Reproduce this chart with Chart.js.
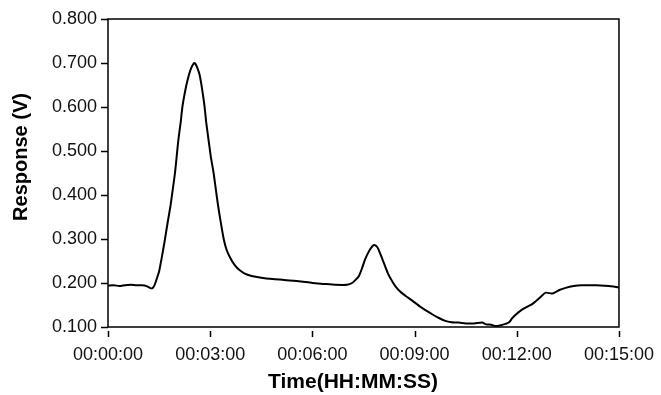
<!DOCTYPE html>
<html>
<head>
<meta charset="utf-8">
<script src="https://cdn.jsdelivr.net/npm/chart.js@4"></script>
<style>
  html, body { margin: 0; padding: 0; background: #fff; }
  #wrap { width: 661px; height: 395px; }
</style>
</head>
<body>
<div id="wrap"><canvas id="chart" width="661" height="395"></canvas></div>
<script>
// time in seconds, response in volts
const timeSec = [0, 10, 20, 30, 40, 50, 60, 68, 74, 78, 82, 86, 90, 95, 100, 105, 110, 114, 118, 121,
  124, 128, 131, 135, 139, 143, 147, 150, 152, 154, 157, 161, 164, 167, 170, 173, 177, 181, 186, 190, 194, 199,
  204, 209, 215, 222, 230, 240, 253, 270, 290, 310, 336, 360, 380, 400, 421, 430, 436, 442, 447, 453,
  460, 466, 470, 475, 480, 486, 493, 500, 506, 515, 525, 536, 550, 560, 571, 582, 594, 605, 618, 630,
  645, 659, 666, 675, 683, 692, 700, 706, 712, 718, 730, 747, 760, 771, 782, 795, 806, 820, 835, 847,
  860, 875, 890, 900];
const response = [0.194, 0.195, 0.193, 0.195, 0.196, 0.195, 0.195, 0.193, 0.189, 0.188, 0.195, 0.210, 0.226, 0.260, 0.297, 0.337, 0.375, 0.412, 0.450, 0.488,
  0.526, 0.565, 0.600, 0.630, 0.655, 0.675, 0.690, 0.697, 0.700, 0.698, 0.690, 0.675, 0.655, 0.630, 0.602, 0.565, 0.526, 0.488, 0.450, 0.412, 0.375, 0.335,
  0.299, 0.275, 0.258, 0.243, 0.231, 0.222, 0.216, 0.212, 0.209, 0.207, 0.204, 0.200, 0.198, 0.196, 0.196, 0.200, 0.207, 0.216, 0.232, 0.254,
  0.273, 0.284, 0.286, 0.280, 0.265, 0.245, 0.222, 0.205, 0.193, 0.180, 0.170, 0.160, 0.146, 0.138, 0.129, 0.121, 0.114, 0.111, 0.110, 0.108,
  0.108, 0.110, 0.106, 0.105, 0.102, 0.104, 0.107, 0.110, 0.120, 0.128, 0.140, 0.152, 0.166, 0.178, 0.176, 0.184, 0.189, 0.193, 0.195, 0.195,
  0.195, 0.194, 0.192, 0.190];
const xTicks = [0, 180, 360, 540, 720, 900];
const yTicks = [0.1, 0.2, 0.3, 0.4, 0.5, 0.6, 0.7, 0.8];
const xTitle = "Time(HH:MM:SS)";
const yTitle = "Response (V)";

const FONT = "'Liberation Sans', Arial, sans-serif";

function hms(s) {
  const h = Math.floor(s / 3600), m = Math.floor((s % 3600) / 60), sec = s % 60;
  return [h, m, sec].map(v => String(v).padStart(2, "0")).join(":");
}

// frame around the plot, tick marks (x ticks sit a little below the axis) and axis titles
const framePlugin = {
  id: "frame",
  afterDraw(chart) {
    const { ctx, chartArea: a, scales } = chart;
    ctx.save();
    ctx.strokeStyle = "#000";
    ctx.lineWidth = 1.5;
    ctx.strokeRect(a.left, a.top, a.right - a.left, a.bottom - a.top);
    ctx.beginPath();
    xTicks.forEach(t => {
      const x = Math.round(scales.x.getPixelForValue(t)) + 0.5;
      ctx.moveTo(x, a.bottom + 4);
      ctx.lineTo(x, a.bottom + 10);
    });
    yTicks.forEach(v => {
      const y = Math.round(scales.y.getPixelForValue(v)) + 0.5;
      ctx.moveTo(a.left - 7, y);
      ctx.lineTo(a.left, y);
    });
    ctx.stroke();

    // titles: the originals sit a bit off the plot centre
    ctx.fillStyle = "#000";
    ctx.textAlign = "center";
    ctx.textBaseline = "middle";
    ctx.font = "bold 21px " + FONT;
    ctx.fillText(xTitle, 353, 382);
    ctx.translate(21, 157);
    ctx.rotate(-Math.PI / 2);
    ctx.font = "bold 20px " + FONT;
    ctx.fillText(yTitle, 0, 0);
    ctx.restore();
  }
};

new Chart(document.getElementById("chart"), {
  type: "line",
  data: {
    datasets: [{
      data: timeSec.map((t, i) => ({ x: t, y: response[i] })),
      borderColor: "#000",
      borderWidth: 2,
      pointRadius: 0,
      tension: 0.2,
      fill: false
    }]
  },
  options: {
    responsive: false,
    animation: false,
    layout: { padding: { top: 19, right: 40, left: 0, bottom: 0 } },
    plugins: { legend: { display: false }, tooltip: { enabled: false } },
    scales: {
      x: {
        type: "linear",
        min: 0,
        max: 900,
        afterBuildTicks: s => { s.ticks = xTicks.map(v => ({ value: v })); },
        afterFit: s => { s.height = 68; },
        border: { display: false },
        grid: { drawOnChartArea: false, color: "transparent", tickLength: 10 },
        ticks: {
          color: "#111",
          font: { family: FONT, size: 18 },
          padding: 7,
          maxRotation: 0,
          callback: v => hms(v)
        }
      },
      y: {
        min: 0.1,
        max: 0.8,
        afterBuildTicks: s => { s.ticks = yTicks.map(v => ({ value: v })); },
        afterFit: s => { s.width = 108; },
        border: { display: false },
        grid: { drawOnChartArea: false, color: "transparent", tickLength: 7 },
        ticks: {
          color: "#111",
          font: { family: FONT, size: 18 },
          padding: 4,
          callback: v => v.toFixed(3)
        }
      }
    }
  },
  plugins: [framePlugin]
});
</script>
</body>
</html>
